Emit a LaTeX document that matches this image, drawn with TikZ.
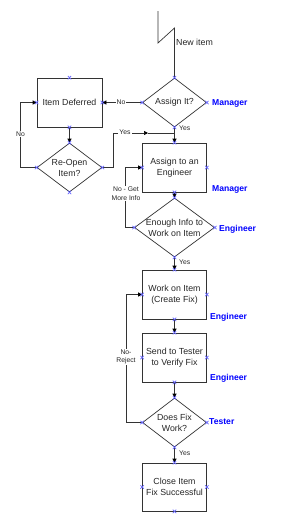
\documentclass[tikz,border=0pt]{standalone}
\usepackage{fontspec}
\setmainfont{Liberation Sans}
\usetikzlibrary{shapes.geometric,arrows.meta}
\begin{document}
\begin{tikzpicture}[x=1pt,y=-1pt,
  ln/.style={draw=black!80, line width=0.7pt},
  arr/.style={ln, -{Triangle[length=4pt,width=4pt,fill=black,color=black]}},
  box/.style={ln, rectangle, minimum width=64pt, minimum height=49pt, inner sep=0pt,
    align=center, font=\fontsize{8.8}{11}\selectfont, text=black!85},
  dia/.style={ln, diamond, minimum width=64pt, minimum height=49pt, inner sep=0pt},
  dtxt/.style={align=center, inner sep=0pt, font=\fontsize{8.8}{11}\selectfont, text=black!85},
  lbl/.style={font=\fontsize{6.8}{8.5}\selectfont, inner sep=1pt, text=black!85, align=center},
  wlbl/.style={lbl, fill=white},
  role/.style={font=\fontsize{8.6}{10}\selectfont\bfseries, text=blue, anchor=west, inner sep=0pt},
  mk/.style={draw=blue!60, line width=0.6pt}
]
\useasboundingbox (0,0) rectangle (306,517);

% shapes
\node[box, minimum width=65pt] (deferred) at (69.5,102.5) {Item Deferred};
\node[dia] (assign) at (174.5,102.5) {};
\node[dtxt] (assignT) at (assign) {Assign It?};
\node[dia, minimum width=65pt] (reopen) at (69.5,167.5) {};
\node[dtxt] (reopenT) at (reopen) {Re-Open\\Item?};
\node[box] (aseng) at (174.5,167.5) {Assign to an\\Engineer};
\node[dia, minimum width=80pt, minimum height=59pt] (enough) at (174.5,227.5) {};
\node[dtxt] (enoughT) at (enough) {Enough Info to\\Work on Item};
\node[box] (work) at (174.5,294.5) {Work on Item\\(Create Fix)};
\node[box] (send) at (174.5,357.5) {Send to Tester\\to Verify Fix};
\node[dia] (fix) at (174.5,422.5) {};
\node[dtxt] (fixT) at (fix) {Does Fix\\Work?};
\node[box, minimum height=48pt] (close) at (174.5,487) {Close Item\\Fix Successful};

% start lightning
\coordinate (start) at (158,11);
\coordinate (z1) at (158,43);
\coordinate (z2) at (174.5,28);
\draw[ln] (start) -- (z1) -- (z2) -- (assign.north);
\node[anchor=west, inner sep=0pt, font=\fontsize{8.8}{11}\selectfont, text=black!85] (newitem) at (176,42) {New item};

% connectors
\draw[arr] (assign.west) -- (deferred.east);
\node[wlbl] (noA) at (121,102.5) {No};
\draw[arr] (deferred.south) -- (reopen.north);
\draw[arr] (reopen.west) -- ++(-16,0) |- (deferred.west);
\node[wlbl] (noB) at (20.5,134) {No};
\coordinate (ym) at (148,133);
\coordinate (yj) at (174.5,133);
\draw[arr] (reopen.east) -- ++(11,0) |- (ym);
\draw[ln] (ym) -- (yj);
\node[wlbl] (yesB) at (125,132) {Yes};
\draw[arr] (assign.south) -- (aseng.north);
\node[lbl, anchor=west, inner sep=0pt] (yesA) at (179,128.5) {Yes};
\draw[arr] (aseng.south) -- (enough.north);
\draw[arr] (enough.west) -- ++(-8.5,0) |- (aseng.west);
\node[wlbl] (noC) at (126,193.5) {No - Get\\More Info};
\draw[arr] (enough.south) -- (work.north);
\node[lbl, anchor=west, inner sep=0pt] (yesC) at (179,262) {Yes};
\draw[arr] (work.south) -- (send.north);
\draw[arr] (send.south) -- (fix.north);
\draw[arr] (fix.west) -- ++(-16,0) |- (work.west);
\node[wlbl] (noD) at (126,357) {No-\\Reject};
\draw[arr] (fix.south) -- (close.north);
\node[lbl, anchor=west, inner sep=0pt] (yesD) at (179,453) {Yes};

% role labels
\node[role] (r1) at (212,103) {Manager};
\node[role] (r2) at (212,189) {Manager};
\node[role] (r3) at (219,229) {Engineer};
\node[role] (r4) at (210,317) {Engineer};
\node[role] (r5) at (210,378) {Engineer};
\node[role] (r6) at (209,421.5) {Tester};

% connection point markers
\foreach \n in {deferred,assign,reopen,aseng,enough,work,send,fix,close}
  \foreach \a in {north,south,east,west}
    \draw[mk] (\n.\a) +(-1.7,-1.7) -- +(1.7,1.7) +(-1.7,1.7) -- +(1.7,-1.7);
\end{tikzpicture}
\end{document}
